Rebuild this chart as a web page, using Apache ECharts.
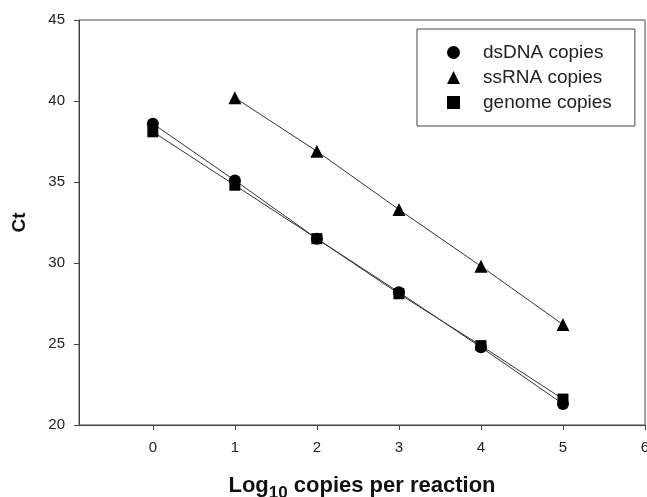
<!DOCTYPE html>
<html>
<head>
<meta charset="utf-8">
<script src="https://cdn.jsdelivr.net/npm/echarts@6/dist/echarts.min.js"></script>
<style>
  html, body { margin: 0; padding: 0; background: #fff; }
  #main { width: 647px; height: 497px; }
</style>
</head>
<body>
<div id="main"></div>
<script>
  // log10 copies per reaction
  var xDs = [0, 1, 2, 3, 4, 5]
  var xSs = [1, 2, 3, 4, 5]
  var xGen = [0, 1, 2, 3, 4, 5]
  // Ct values
  var ctDs = [38.6, 35.1, 31.5, 28.2, 24.8, 21.3]
  var ctSs = [40.2, 36.9, 33.3, 29.8, 26.2]
  var ctGen = [38.1, 34.8, 31.5, 28.1, 24.9, 21.6]
  var xTicks = [0, 1, 2, 3, 4, 5, 6]
  var names = ['dsDNA copies', 'ssRNA copies', 'genome copies']

  function pairs(xs, ys) {
    return xs.map(function (x, i) { return [x, ys[i]] })
  }

  var font = 'Liberation Sans, Arial, sans-serif'
  var axisColor = '#444'

  var chart = echarts.init(document.getElementById('main'))
  var option = {
    animation: false,
    textStyle: { fontFamily: font },
    grid: {
      left: 79, right: 2, top: 20, bottom: 72,
      containLabel: false,
      outerBoundsMode: 'none',
      show: true, borderColor: axisColor, borderWidth: 1
    },
    legend: {
      orient: 'vertical',
      left: 417, top: 29,
      padding: [14, 23, 14, 30],
      itemGap: 6,
      itemWidth: 13,
      itemHeight: 13,
      borderColor: axisColor,
      borderWidth: 1,
      backgroundColor: '#fff',
      textStyle: { fontSize: 19, color: '#222', lineHeight: 18, padding: [0, 0, 0, 18] },
      data: [
        { name: names[0], icon: 'circle' },
        { name: names[1], icon: 'triangle' },
        { name: names[2], icon: 'rect' }
      ]
    },
    xAxis: {
      type: 'value',
      min: -0.9, max: 6,
      name: '{a|Log}{b|10}{a| copies per reaction}',
      nameLocation: 'middle',
      nameGap: 50,
      nameTextStyle: {
        rich: {
          a: { fontSize: 22, fontWeight: 'bold', color: '#111', fontFamily: font, verticalAlign: 'top' },
          b: { fontSize: 17, fontWeight: 'bold', color: '#111', fontFamily: font, padding: [10, 0, 0, 0], verticalAlign: 'top' }
        }
      },
      splitLine: { show: false },
      axisLine: { onZero: false, lineStyle: { color: axisColor, width: 1 } },
      axisTick: { show: true, length: 5, customValues: xTicks, lineStyle: { color: axisColor } },
      axisLabel: { customValues: xTicks, fontSize: 15, color: '#222', margin: 15 }
    },
    yAxis: {
      type: 'value',
      min: 20, max: 45, interval: 5,
      name: 'Ct',
      nameLocation: 'middle',
      nameGap: 50,
      nameTextStyle: { fontSize: 19, fontWeight: 'bold', color: '#111' },
      splitLine: { show: false },
      axisLine: { show: true, onZero: false, lineStyle: { color: axisColor, width: 1 } },
      axisTick: { show: true, length: 5, lineStyle: { color: axisColor } },
      axisLabel: { fontSize: 15, color: '#222', margin: 14 }
    },
    series: [
      {
        name: names[0], type: 'line', data: pairs(xDs, ctDs),
        symbol: 'circle', symbolSize: 12,
        itemStyle: { color: '#000' },
        lineStyle: { color: '#333', width: 1 }
      },
      {
        name: names[1], type: 'line', data: pairs(xSs, ctSs),
        symbol: 'triangle', symbolSize: 13,
        itemStyle: { color: '#000' },
        lineStyle: { color: '#333', width: 1 }
      },
      {
        name: names[2], type: 'line', data: pairs(xGen, ctGen),
        symbol: 'rect', symbolSize: 11,
        itemStyle: { color: '#000' },
        lineStyle: { color: '#333', width: 1 }
      }
    ]
  }
  chart.setOption(option)
</script>
</body>
</html>
